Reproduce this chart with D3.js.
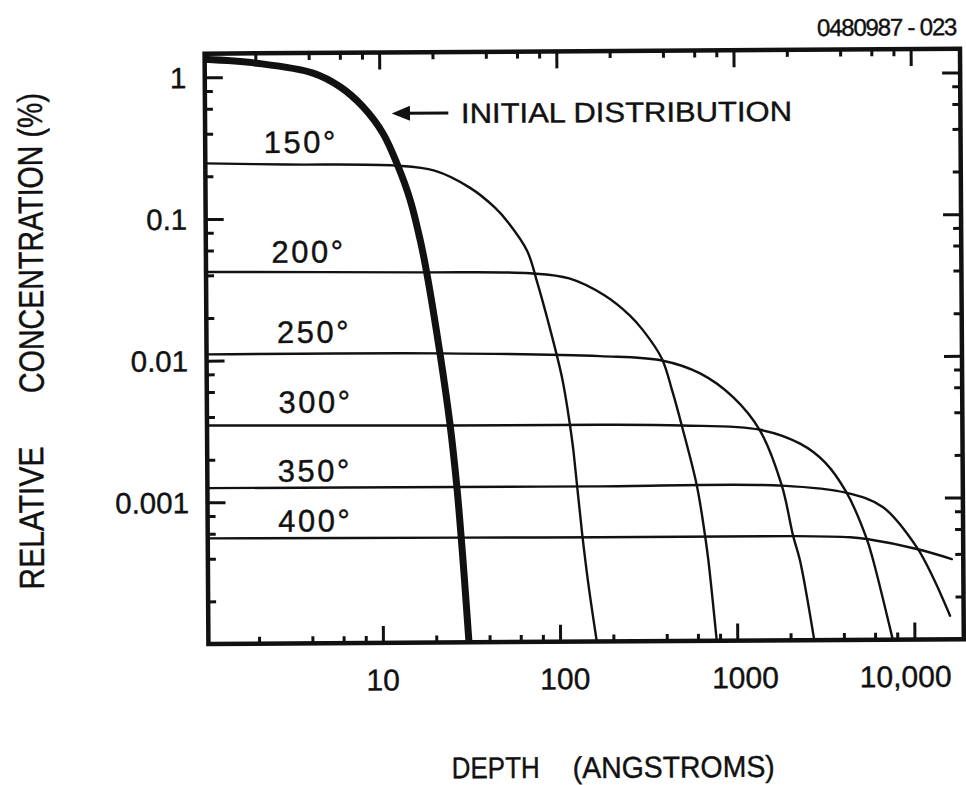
<!DOCTYPE html>
<html>
<head>
<meta charset="utf-8">
<script src="https://cdn.jsdelivr.net/npm/d3@7"></script>
<style>
  body { margin: 0; background: #fff; }
  svg { display: block; }
  text { font-family: "Liberation Sans", Arial, sans-serif; fill: #111; stroke: #111; stroke-width: 0.4; }
</style>
</head>
<body>
<svg id="chart" width="966" height="785"></svg>
<script>
// ---- axis ticks ----
const depthMajorTicks = [10, 100, 1000, 10000];
const depthTickLabels = ["10", "100", "1000", "10,000"];
const depthMinorTicks = [2, 4, 6, 8, 20, 40, 60, 80, 200, 400, 600, 800, 2000, 4000, 6000, 8000];
const concMajorTicks = [1, 0.1, 0.01, 0.001];
const concTickLabels = ["1", "0.1", "0.01", "0.001"];
const concMinorTicks = [0.8, 0.6, 0.4, 0.2, 0.08, 0.06, 0.04, 0.02,
                        0.008, 0.006, 0.004, 0.002, 0.0008, 0.0006, 0.0004, 0.0002];

// ---- profiles: [depth (Å), relative concentration (%)] ----
const initialDistribution = [
  [1.035, 1.34], [2.04, 1.25], [4.23, 1.06], [6.0, 0.846], [8.08, 0.609],
  [10.45, 0.3945], [12.7, 0.229], [14.8, 0.133], [16.8, 0.0692], [18.2, 0.0413],
  [21.5, 0.0110], [24.4, 0.0034], [26.5, 0.00124], [27.9, 0.00055],
  [28.9, 0.000296], [30.6, 0.0001]
];
const anneal150 = [
  [1.035, 0.247], [2.95, 0.2405], [12.24, 0.2336], [20.34, 0.2143], [32.1, 0.162],
  [44.5, 0.1166], [52.9, 0.0912], [67.3, 0.0577], [76.7, 0.03424], [86.8, 0.01937],
  [104.9, 0.00729], [116.4, 0.003224], [121.2, 0.002147], [134.3, 0.000583],
  [145.5, 0.000248], [161.1, 0.0001]
];
const anneal200 = [
  [1.035, 0.0423], [16.9, 0.0411], [69.8, 0.040], [116, 0.0367], [183, 0.0278],
  [254, 0.0200], [302, 0.01563], [384, 0.00989], [438, 0.00587], [495, 0.00332],
  [599, 0.00125], [664, 0.000552], [692, 0.000368], [766, 0.0001]
];
const anneal250 = [
  [1.035, 0.01108], [21.5, 0.01099], [172, 0.01034], [384, 0.00957], [631, 0.00772],
  [967, 0.00523], [1368, 0.00303], [1807, 0.00124], [2084, 0.000548],
  [2277, 0.000364], [2720, 0.0001]
];
const anneal300 = [
  [1.035, 0.00349], [24.3, 0.0034], [171, 0.00339], [495, 0.00332], [1370, 0.00307],
  [2301, 0.00244], [3184, 0.00179], [4202, 0.00109], [5432, 0.000514],
  [5900, 0.000361], [7550, 0.0001]
];
const anneal350 = [
  [1.035, 0.00126], [26.2, 0.00125], [171, 0.001245], [1807, 0.001235],
  [4202, 0.00109], [6730, 0.00086], [10400, 0.000447], [12810, 0.000273],
  [15920, 0.0001465]
];
const anneal400 = [
  [1.035, 0.000557], [27.5, 0.000549], [170, 0.000544], [2084, 0.000543],
  [4375, 0.00053], [5432, 0.000514], [10400, 0.000435], [16370, 0.000368]
];
const annealCurves = [anneal150, anneal200, anneal250, anneal300, anneal350, anneal400];
const annealLabels = ["150°", "200°", "250°", "300°", "350°", "400°"];

// ---- layout ----
const frame = { left: 206.5, right: 961.9, top: 51.2, bottom: 641.6 };
const annealLabelPos = [[265, 151], [272, 260.7], [277, 341], [278, 411], [277, 479.7], [277, 529.7]];
const depthLabelNudge = [0, 5, 8, -9];
const ink = "#111";

const svg = d3.select("#chart");
svg.append("rect").attr("width", 966).attr("height", 785).attr("fill", "#fff");

// the whole sheet sits very slightly askew
const g = svg.append("g").attr("transform", "rotate(-0.37,584,346)");

const x = d3.scaleLog().domain([1.035, 19000]).range([frame.left, frame.right]);
const y = d3.scaleLog().domain([1e-4, 1.47]).range([frame.bottom, frame.top]);

function tickAxis(axis, values, size, tx, ty) {
  g.append("g")
    .attr("transform", `translate(${tx},${ty})`)
    .call(axis.tickValues(values).tickSize(-size).tickFormat(""))
    .call(s => s.select(".domain").remove())
    .call(s => s.selectAll(".tick line").attr("stroke", ink).attr("stroke-width", 3));
}
tickAxis(d3.axisBottom(x), depthMajorTicks, 17, 0, frame.bottom);
tickAxis(d3.axisBottom(x), depthMinorTicks, 7, 0, frame.bottom);
tickAxis(d3.axisTop(x), depthMajorTicks, 17, 0, frame.top);
tickAxis(d3.axisTop(x), depthMinorTicks, 7, 0, frame.top);
tickAxis(d3.axisLeft(y), concMajorTicks, 18, frame.left, 0);
tickAxis(d3.axisLeft(y), concMinorTicks, 8, frame.left, 0);
tickAxis(d3.axisRight(y), concMajorTicks, 18, frame.right, 0);
tickAxis(d3.axisRight(y), concMinorTicks, 8, frame.right, 0);

// frame
g.append("rect")
  .attr("x", x.range()[0]).attr("y", y.range()[1])
  .attr("width", x.range()[1] - x.range()[0])
  .attr("height", y.range()[0] - y.range()[1])
  .attr("fill", "none").attr("stroke", ink).attr("stroke-width", 4.5);

// tick labels
g.append("g").selectAll("text").data(depthMajorTicks).join("text")
  .attr("x", (d, i) => x(d) + depthLabelNudge[i])
  .attr("y", frame.bottom + 47.5)
  .attr("text-anchor", "middle")
  .attr("font-size", 30)
  .text((d, i) => depthTickLabels[i]);

g.append("g").selectAll("text").data(concMajorTicks).join("text")
  .attr("x", frame.left - 18.5)
  .attr("y", d => y(d))
  .attr("dy", "0.36em")
  .attr("text-anchor", "end")
  .attr("font-size", 29.5)
  .text((d, i) => concTickLabels[i]);

// profiles
const line = d3.line()
  .x(d => x(d[0])).y(d => y(d[1]))
  .curve(d3.curveCatmullRom.alpha(0.5));

g.append("g").selectAll("path").data(annealCurves).join("path")
  .attr("d", line)
  .attr("fill", "none").attr("stroke", ink)
  .attr("stroke-width", 2.4).attr("stroke-linecap", "round");

g.append("path").datum(initialDistribution)
  .attr("d", line)
  .attr("fill", "none").attr("stroke", ink)
  .attr("stroke-width", 7).attr("stroke-linecap", "butt");

// temperature labels
g.append("g").selectAll("text").data(annealLabels).join("text")
  .attr("x", (d, i) => annealLabelPos[i][0])
  .attr("y", (d, i) => annealLabelPos[i][1])
  .attr("font-size", 31)
  .attr("letter-spacing", 2.5)
  .text(d => d);

// callout for the initial profile
g.append("line")
  .attr("x1", 449.8).attr("y1", 112.2).attr("x2", 408).attr("y2", 112.2)
  .attr("stroke", ink).attr("stroke-width", 3);
g.append("path")
  .attr("d", "M393.2,112.2 L411.5,104.7 L411.5,119.7 Z")
  .attr("fill", ink);
g.append("text")
  .attr("x", 462.5).attr("y", 122.2)
  .attr("font-size", 28)
  .attr("textLength", 331).attr("lengthAdjust", "spacingAndGlyphs")
  .text("INITIAL DISTRIBUTION");

// axis titles
g.append("text")
  .attr("x", 449).attr("y", 777.5)
  .attr("font-size", 30)
  .attr("textLength", 88).attr("lengthAdjust", "spacingAndGlyphs")
  .text("DEPTH");
g.append("text")
  .attr("x", 570).attr("y", 778)
  .attr("font-size", 30)
  .attr("textLength", 202).attr("lengthAdjust", "spacingAndGlyphs")
  .text("(ANGSTROMS)");

g.append("text")
  .attr("transform", "translate(42.5,514.5) rotate(-90)")
  .attr("text-anchor", "middle")
  .attr("font-size", 35)
  .attr("textLength", 143).attr("lengthAdjust", "spacingAndGlyphs")
  .text("RELATIVE");
g.append("text")
  .attr("transform", "translate(43.5,239.5) rotate(-90)")
  .attr("text-anchor", "middle")
  .attr("font-size", 35)
  .attr("textLength", 300).attr("lengthAdjust", "spacingAndGlyphs")
  .text("CONCENTRATION (%)");

// drawing number
g.append("text")
  .attr("x", 819).attr("y", 37.5)
  .attr("font-size", 24)
  .attr("letter-spacing", -1.2)
  .text("0480987 - 023");
</script>
</body>
</html>
